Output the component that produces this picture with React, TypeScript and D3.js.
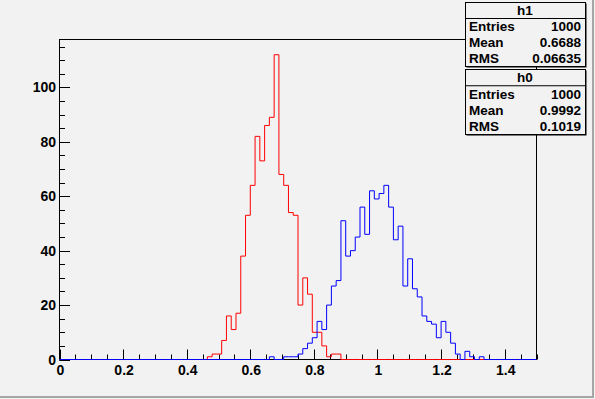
import React from 'react'
import * as d3 from 'd3'

// histogram binning (100 bins from 0 to 1.5)
const xMin = 0
const xMax = 1.5
const nBins = 100

// h1 (red), bin contents starting at bin index 31
const h1FirstBin = 31
const h1Counts = [1, 2, 2, 7, 16, 11, 17, 38, 53, 64, 82, 73, 86, 89, 112, 68, 64, 54, 53, 20, 30, 24, 10, 10, 5, 1, 2, 2]

// h0 (blue), bin contents starting at bin index 44
const h0FirstBin = 44
const h0Counts = [1, 0, 0, 1, 1, 1, 2, 4, 6, 8, 14, 11, 20, 27, 29, 51, 38, 40, 45, 56, 46, 62, 59, 61, 64, 56, 44, 49, 27, 37, 26, 23, 16, 14, 13, 8, 14, 10, 6, 2, 0, 3, 1, 0, 1]

const xTicks = [0, 0.2, 0.4, 0.6, 0.8, 1, 1.2, 1.4]
const yTicks = [0, 20, 40, 60, 80, 100]

const statNames = ['h1', 'h0']
const statEntries = ['1000', '1000']
const statMeans = ['0.6688', '0.9992']
const statRms = ['0.06635', '0.1019']

const W = 595
const H = 399
const font = '"Liberation Sans", Arial, Helvetica, sans-serif'

function stepPath(first: number, counts: number[], x: any, y: any) {
    const binW = (xMax - xMin) / nBins
    const pts: [number, number][] = [[xMin, 0]]
    for (let i = 0; i < nBins; i++) {
        const k = i - first
        const v = k >= 0 && k < counts.length ? counts[k] : 0
        pts.push([xMin + i * binW, v])
    }
    pts.push([xMax, 0])
    const line = d3
        .line<[number, number]>()
        .x((d) => x(d[0]))
        .y((d) => y(d[1]))
        .curve(d3.curveStepAfter)
    return line(pts) || ''
}

export default function App() {
    const x = d3.scaleLinear().domain([xMin, xMax]).range([59.5, 536.5])
    const yMaxVal = d3.max(h1Counts)! * 1.05
    const y = d3.scaleLinear().domain([0, yMaxVal]).range([359.5, 39.5])

    const xMinor = d3.range(0, 1.5001, 0.05)
    const yMinor = d3.range(0, yMaxVal, 5)

    const boxes = statNames.map((n, i) => ({
        name: n,
        entries: statEntries[i],
        mean: statMeans[i],
        rms: statRms[i],
        top: i === 0 ? 2 : 69,
        h: i === 0 ? 64 : 65,
    }))

    return (
        <div style={{ position: 'fixed', left: 0, top: 0 }}>
            <svg width={W} height={H} style={{ display: 'block' }} fontFamily={font}>
                <rect x={0} y={0} width={W} height={H} fill="#f2f2f2" />
                {/* canvas bevel */}
                <rect x={W - 3} y={0} width={2} height={H - 1} fill="#a6a6a6" />
                <rect x={0} y={H - 3} width={W - 1} height={2} fill="#a6a6a6" />

                {/* frame */}
                <rect x={59.5} y={39.5} width={477} height={320} fill="#f2f2f2" stroke="#000" strokeWidth={1} />

                {/* x ticks */}
                {xMinor.map((t) => (
                    <line key={'xm' + t} x1={Math.round(x(t)) + 0.5} x2={Math.round(x(t)) + 0.5}
                        y1={359.5} y2={354.5} stroke="#000" />
                ))}
                {xTicks.map((t) => (
                    <line key={'xM' + t} x1={Math.round(x(t)) + 0.5} x2={Math.round(x(t)) + 0.5}
                        y1={359.5} y2={349.5} stroke="#000" />
                ))}
                {/* y ticks */}
                {yMinor.map((t) => (
                    <line key={'ym' + t} x1={59.5} x2={65} y1={Math.round(y(t)) + 0.5}
                        y2={Math.round(y(t)) + 0.5} stroke="#000" />
                ))}
                {yTicks.map((t) => (
                    <line key={'yM' + t} x1={59.5} x2={70} y1={Math.round(y(t)) + 0.5}
                        y2={Math.round(y(t)) + 0.5} stroke="#000" />
                ))}

                {/* histograms */}
                <path d={stepPath(h1FirstBin, h1Counts, x, y)} fill="none" stroke="#ff0000" strokeWidth={1} />
                <path d={stepPath(h0FirstBin, h0Counts, x, y)} fill="none" stroke="#0000ff" strokeWidth={1} />

                {/* tick labels */}
                {xTicks.map((t) => (
                    <text key={'xl' + t} x={x(t) + 1} y={375} textAnchor="middle" fontSize={14}
                        fontWeight="bold">{d3.format('~g')(t)}</text>
                ))}
                {yTicks.map((t) => (
                    <text key={'yl' + t} x={56} y={y(t) + 5} textAnchor="end" fontSize={14}
                        fontWeight="bold">{t}</text>
                ))}

                {/* stats boxes */}
                {boxes.map((b) => {
                    const left = 465
                    const w = 120
                    const row = b.h / 4
                    const rows = [['Entries', b.entries], ['Mean', b.mean], ['RMS', b.rms]]
                    return (
                        <g key={b.name}>
                            <rect x={left + 1.5} y={b.top + 1.5} width={w} height={b.h} fill="#000" />
                            <rect x={left + 0.5} y={b.top + 0.5} width={w} height={b.h} fill="#f2f2f2" stroke="#000" />
                            <line x1={left} x2={left + w} y1={b.top + row + 0.5} y2={b.top + row + 0.5} stroke="#000" />
                            <text x={left + w / 2} y={b.top + row - 3} textAnchor="middle" fontSize={13.5}
                                fontWeight="bold">{b.name}</text>
                            {rows.map((r, j) => (
                                <g key={r[0]}>
                                    <text x={left + 4} y={b.top + row * (j + 2) - 3} fontSize={13.5}
                                        fontWeight="bold">{r[0]}</text>
                                    <text x={left + w - 4} y={b.top + row * (j + 2) - 3} fontSize={13.5}
                                        fontWeight="bold" textAnchor="end">{r[1]}</text>
                                </g>
                            ))}
                        </g>
                    )
                })}
            </svg>
        </div>
    )
}
